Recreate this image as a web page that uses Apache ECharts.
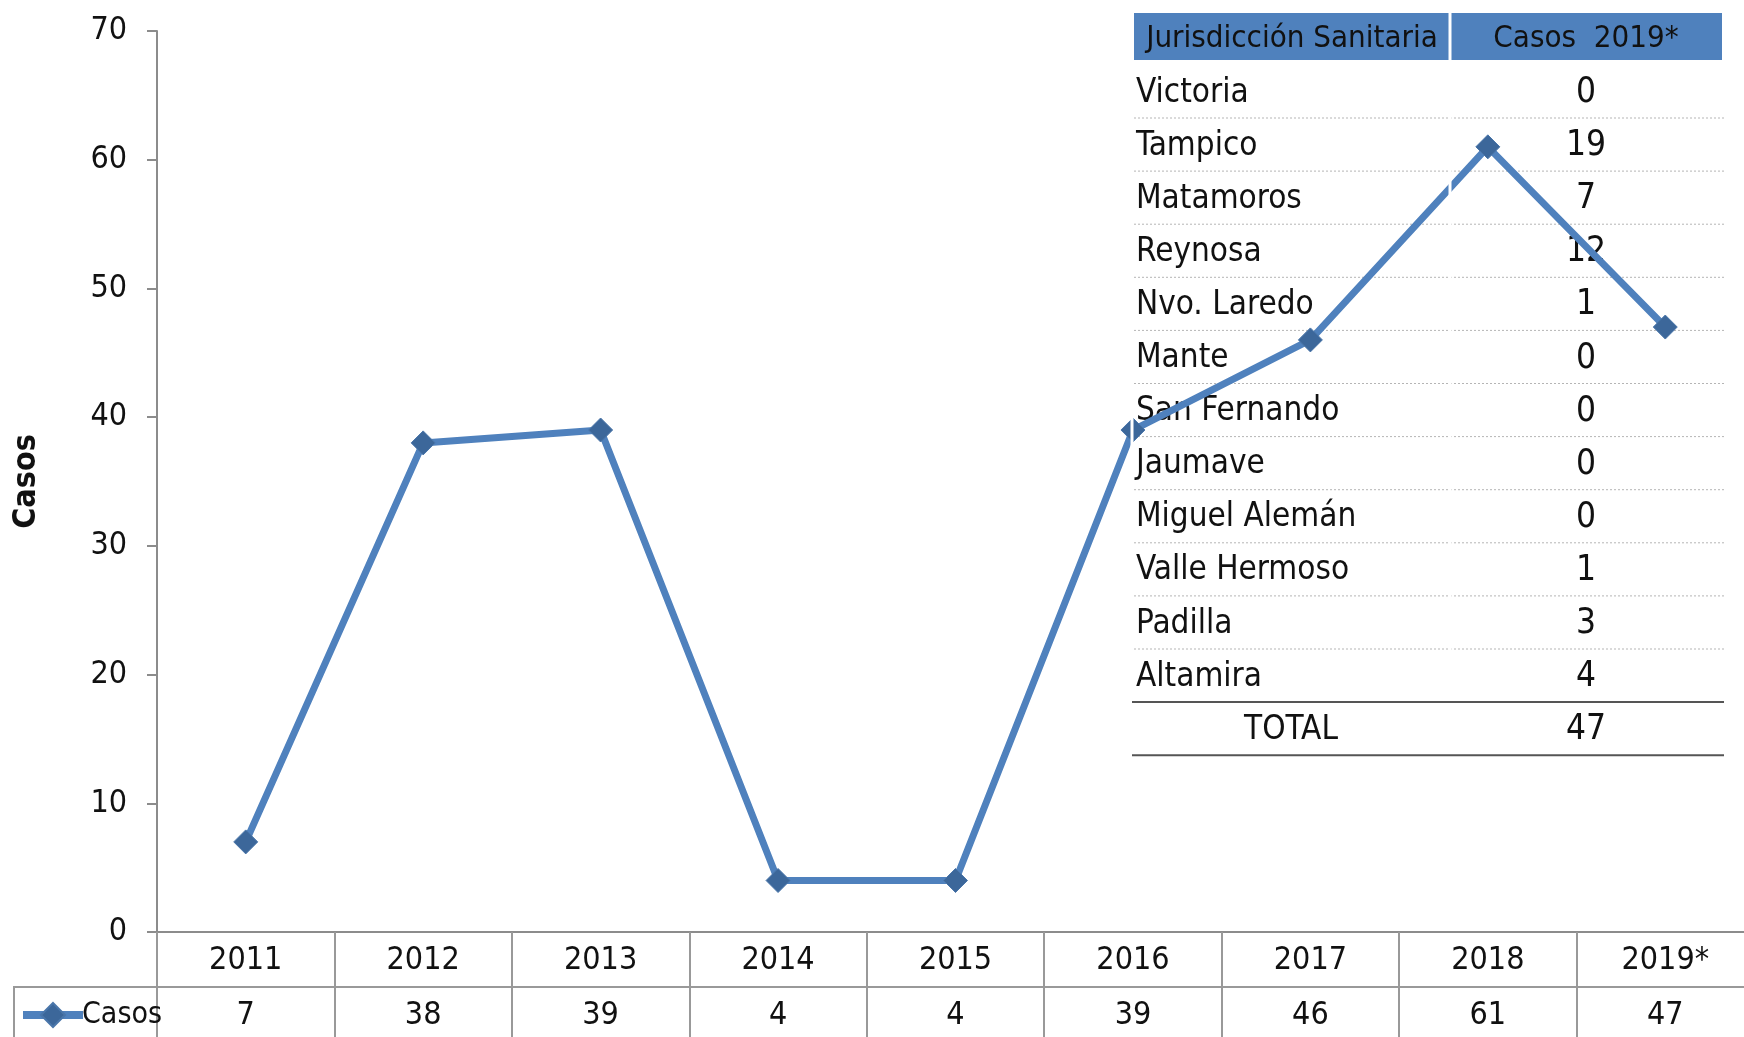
<!DOCTYPE html>
<html>
<head>
<meta charset="utf-8">
<script src="https://cdn.jsdelivr.net/npm/echarts@6/dist/echarts.min.js"></script>
<style>
  html, body { margin: 0; padding: 0; background: #fff; overflow: hidden; }
  #chart { width: 1760px; height: 1037px; }
</style>
</head>
<body>
<div id="chart"></div>
<script>
const years = ['2011', '2012', '2013', '2014', '2015', '2016', '2017', '2018', '2019*'];
const casos = [7, 38, 39, 4, 4, 39, 46, 61, 47];

const jurisdicciones = ['Victoria', 'Tampico', 'Matamoros', 'Reynosa', 'Nvo. Laredo', 'Mante',
    'San Fernando', 'Jaumave', 'Miguel Alemán', 'Valle Hermoso', 'Padilla', 'Altamira'];
const casos2019 = [0, 19, 7, 12, 1, 0, 0, 0, 0, 1, 3, 4];
const totalLabel = 'TOTAL';
const total2019 = 47;

const FONT = "'Liberation Sans Narrow', 'DejaVu Sans Condensed', 'Roboto', sans-serif";
const BLUE = '#4F81BD';

// the plot runs a little past the right edge of the picture, as in the original
const chart = echarts.init(document.getElementById('chart'));

// table in the upper right corner
const tLeft = 1134, tRight = 1722, tDiv = 1450;
const headTop = 13, headBottom = 60;
const firstLine = 118, rowH = 53.1;
const nameX = 1136, valX = 1586, totalX = 1291;

const graphics = [];
graphics.push({ type: 'rect', shape: { x: tLeft, y: headTop, width: tRight - tLeft, height: headBottom - headTop },
    style: { fill: BLUE }, z: 0 });
graphics.push({ type: 'line', shape: { x1: tDiv, y1: headTop, x2: tDiv, y2: headBottom },
    style: { stroke: '#fff', lineWidth: 3 }, z: 1 });
graphics.push({ type: 'text', x: (tLeft + tDiv) / 2, y: (headTop + headBottom) / 2 + 2,
    style: { text: 'Jurisdicción Sanitaria', font: '31px ' + FONT, fill: '#111', align: 'center', verticalAlign: 'middle' }, z: 1 });
graphics.push({ type: 'text', x: valX, y: (headTop + headBottom) / 2 + 2,
    style: { text: 'Casos  2019*', font: '31px ' + FONT, fill: '#111', align: 'center', verticalAlign: 'middle' }, z: 1 });

jurisdicciones.forEach((name, i) => {
    const line = firstLine + rowH * i;
    const cy = line - 25;
    graphics.push({ type: 'text', x: nameX, y: cy,
        style: { text: name, font: '33px ' + FONT, fill: '#111', align: 'left', verticalAlign: 'middle' }, z: 1 });
    graphics.push({ type: 'text', x: valX, y: cy,
        style: { text: String(casos2019[i]), font: '35px ' + FONT, fill: '#111', align: 'center', verticalAlign: 'middle' }, z: 1 });
    if (i < jurisdicciones.length - 1) {
        graphics.push({ type: 'line', shape: { x1: tLeft, y1: line, x2: tRight + 2, y2: line },
            style: { stroke: '#b5b5b5', lineWidth: 1, lineDash: [2, 2] }, z: 1 });
    } else {
        graphics.push({ type: 'line', shape: { x1: tLeft - 2, y1: line, x2: tRight + 2, y2: line },
            style: { stroke: '#555', lineWidth: 2 }, z: 1 });
    }
});
const totalLine = firstLine + rowH * jurisdicciones.length;
graphics.push({ type: 'text', x: totalX, y: totalLine - 25,
    style: { text: totalLabel, font: '33px ' + FONT, fill: '#111', align: 'center', verticalAlign: 'middle' }, z: 1 });
graphics.push({ type: 'text', x: valX, y: totalLine - 25,
    style: { text: String(total2019), font: '35px ' + FONT, fill: '#111', align: 'center', verticalAlign: 'middle' }, z: 1 });
graphics.push({ type: 'line', shape: { x1: tLeft - 2, y1: totalLine, x2: tRight + 2, y2: totalLine },
    style: { stroke: '#555', lineWidth: 2 }, z: 1 });

// white cell borders that cut through the line
graphics.push({ type: 'line', shape: { x1: tLeft - 2, y1: headBottom, x2: tLeft - 2, y2: firstLine + rowH * 11 - 2 },
    style: { stroke: '#fff', lineWidth: 3 }, z: 10 });
graphics.push({ type: 'line', shape: { x1: tDiv, y1: headBottom, x2: tDiv, y2: firstLine + rowH * 11 - 2 },
    style: { stroke: '#fff', lineWidth: 3 }, z: 10 });

// data table under the axis
graphics.push({ type: 'line', shape: { x1: 13, y1: 987, x2: 1760, y2: 987 },
    style: { stroke: '#999', lineWidth: 2 }, z: 1 });
graphics.push({ type: 'line', shape: { x1: 14, y1: 987, x2: 14, y2: 1037 },
    style: { stroke: '#999', lineWidth: 2 }, z: 1 });

const option = {
    animation: false,
    backgroundColor: '#fff',
    textStyle: { fontFamily: FONT },
    grid: { left: 157, top: 31, width: 1597, bottom: 105 },
    legend: {
        data: ['Casos'],
        left: 14,
        top: 995,
        itemWidth: 60,
        itemHeight: 30,
        lineStyle: { width: 8, color: BLUE },
        textStyle: { fontSize: 30, color: '#111', fontFamily: FONT, padding: [0, 0, 0, -6] }
    },
    xAxis: {
        type: 'category',
        data: years,
        boundaryGap: true,
        axisLine: { lineStyle: { color: '#8c8c8c', width: 2 } },
        axisTick: { show: true, length: 110, lineStyle: { color: '#999', width: 2 } },
        axisLabel: {
            interval: 0,
            margin: 1,
            formatter: (v, i) => '{y|' + v + '}\n{v|' + casos[i] + '}',
            rich: {
                y: { fontSize: 32, lineHeight: 55, color: '#111', fontFamily: FONT },
                v: { fontSize: 32, lineHeight: 55, color: '#111', fontFamily: FONT }
            }
        }
    },
    yAxis: {
        type: 'value',
        min: 0,
        max: 70,
        interval: 10,
        name: 'Casos',
        nameLocation: 'middle',
        nameRotate: 90,
        nameGap: 114,
        nameTextStyle: { fontSize: 32, fontWeight: 'bold', color: '#111', fontFamily: FONT },
        axisLine: { show: true, lineStyle: { color: '#8c8c8c', width: 2 } },
        axisTick: { show: true, length: 10, lineStyle: { color: '#8c8c8c', width: 2 } },
        splitLine: { show: false },
        axisLabel: { fontSize: 32, color: '#111', margin: 30, fontFamily: FONT }
    },
    graphic: { elements: graphics },
    series: [{
        name: 'Casos',
        type: 'line',
        data: casos,
        z: 5,
        symbol: 'diamond',
        symbolSize: 24,
        lineStyle: { color: BLUE, width: 7 },
        itemStyle: { color: '#3C679A', borderColor: '#4A76AA', borderWidth: 1 },
        color: BLUE
    }]
};

chart.setOption(option);
</script>
</body>
</html>
